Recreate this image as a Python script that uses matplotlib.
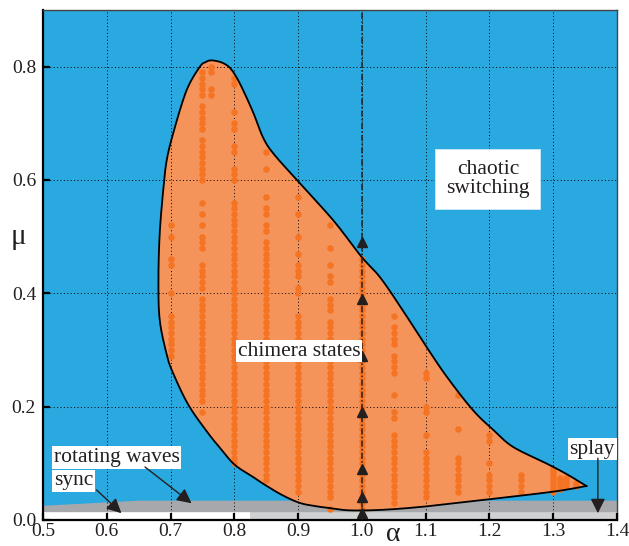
import numpy as np
import matplotlib
matplotlib.use("Agg")
import matplotlib.pyplot as plt

plt.rcParams['font.family'] = ['Liberation Serif', 'DejaVu Serif']

# boundary of the chimera region (alpha, mu), from the right-hand tip along the
# lower edge, up the left side, over the peak and back down to the tip
edge_alpha = [1.352, 1.300, 1.195, 1.101, 1.033, 0.981, 0.950, 0.930, 0.903, 0.875,
              0.848, 0.832, 0.801, 0.780, 0.759, 0.728, 0.704, 0.694, 0.683, 0.681,
              0.683, 0.689, 0.694, 0.704, 0.725, 0.746, 0.755, 0.762, 0.772, 0.783,
              0.793, 0.803, 0.814, 0.830, 0.845, 0.861, 0.898, 0.955, 0.999, 1.028,
              1.060, 1.101, 1.133, 1.174, 1.206, 1.237, 1.289, 1.321, 1.352]
edge_mu = [0.060, 0.050, 0.036, 0.024, 0.018, 0.017, 0.021, 0.024, 0.030, 0.044,
           0.062, 0.074, 0.097, 0.124, 0.153, 0.203, 0.259, 0.292, 0.353, 0.423,
           0.506, 0.588, 0.635, 0.682, 0.758, 0.800, 0.808, 0.811, 0.810, 0.806,
           0.798, 0.782, 0.758, 0.718, 0.675, 0.647, 0.600, 0.529, 0.465, 0.429,
           0.377, 0.306, 0.253, 0.194, 0.159, 0.129, 0.100, 0.081, 0.060]

# simulated points: column alpha -> mu values (in hundredths)
dots = {
    0.70: [52, 50, 46, 45, 40, 36, 35, 34, 33, 32, 31, 30, 29],
    0.75: [79, 78, 77, 76, 75, 73, 72, 71, 70, 69, 67, 66, 65, 64, 63, 62, 61, 60, 56, 54,
           52, 50, 49, 48, 45, 44, 43, 42, 41, 39, 38, 37, 36, 35, 34, 33, 32, 31, 30, 29,
           28, 27, 26, 25, 24, 23, 22, 21, 19],
    0.763: [80, 79, 76, 75],
    0.80: [78, 77, 72, 70, 69, 66, 65, 62, 61, 60, 56, 55, 54, 53, 52, 51, 50, 49, 48, 47,
           46, 45, 44, 43, 42, 41, 40, 39, 38, 37, 36, 35, 34, 33, 32, 31, 30, 29, 28, 27,
           26, 25, 24, 23, 22, 21, 20, 19, 18, 17, 16, 15, 14, 13, 12, 11, 10],
    0.85: [65, 62, 57, 55, 54, 52, 51, 49, 48, 47, 46, 45, 44, 43, 42, 41, 40, 39, 38, 37,
           36, 35, 34, 33, 32, 31, 30, 29, 28, 27, 26, 25, 24, 23, 22, 21, 20, 19, 18, 17,
           16, 15, 14, 13, 12, 11, 10, 9, 8, 7],
    0.90: [57, 54, 50, 47, 45, 44, 43, 41, 40, 36, 35, 34, 33, 32, 31, 30, 29, 28, 27, 26,
           25, 24, 23, 22, 21, 20, 19, 18, 17, 16, 15, 14, 13, 12, 11, 10, 9, 8, 7, 6, 5],
    0.95: [52, 48, 45, 43, 42, 39, 38, 37, 35, 34, 33, 32, 31, 30, 29, 28, 27, 26, 25, 24,
           23, 22, 21, 20, 19, 18, 17, 16, 15, 14, 13, 12, 11, 10, 9, 8, 7, 6, 5, 4, 2],
    1.00: [46, 45, 44, 43, 42, 41, 40, 39, 38, 37, 36, 35, 34, 33, 32, 31, 30, 29, 28, 27,
           26, 25, 24, 23, 22, 21, 20, 19, 18, 17, 16, 15, 14, 13, 12, 11, 10, 9, 8, 7, 6,
           5, 4, 3, 2],
    1.05: [36, 34, 33, 32, 31, 29, 28, 27, 26, 22, 19, 18, 15, 14, 13, 12, 11, 10, 9, 8, 7,
           6, 5, 4, 3],
    1.10: [26, 25, 20, 19, 15, 12, 11, 10, 9, 8, 7, 6, 5, 4],
    1.15: [22, 16, 11, 10, 9, 8, 7, 6, 5],
    1.20: [15, 14, 10, 8, 7, 6, 5],
    1.25: [8, 7, 6, 5],
    1.30: [9, 8.5, 8, 7.5, 7, 6.5, 6, 5.5, 5],
    1.31: [7.5, 7, 6.5, 6, 5.5],
    1.32: [7.5, 7, 6.5, 6],
    1.335: [6.5, 6],
}

# continuation sweep markers along alpha = 1
sweep_mu = [0.49, 0.39, 0.29, 0.19, 0.09, 0.04, 0.012]

# bottom bands
band_alpha = [0.5, 0.65, 1.4]
band_top = [0.026, 0.035, 0.035]
band_low = 0.0147
split_alpha = 0.824

xticks = [0.5, 0.6, 0.7, 0.8, 0.9, 1.0, 1.1, 1.2, 1.3, 1.4]
yticks = [0.0, 0.2, 0.4, 0.6, 0.8]

blue = '#29a9e0'
orange_fill = '#f4935a'
orange_dot = '#f47423'
grey_dark = '#a7a8ab'
grey_light = '#d0d1d3'
ink = '#231f20'


def smooth(xs, ys, n=10):
    # Catmull-Rom through the traced points, only for drawing the outline
    p = np.column_stack([xs, ys])
    p = np.vstack([p[:1], p, p[-1:]])
    out = []
    for i in range(1, len(p) - 2):
        p0, p1, p2, p3 = p[i - 1], p[i], p[i + 1], p[i + 2]
        for t in np.linspace(0, 1, n, endpoint=False):
            t2, t3 = t * t, t * t * t
            out.append(0.5 * ((2 * p1) + (-p0 + p2) * t + (2 * p0 - 5 * p1 + 4 * p2 - p3) * t2
                              + (-p0 + 3 * p1 - 3 * p2 + p3) * t3))
    out.append(p[-2])
    out = np.array(out)
    return out[:, 0], out[:, 1]


fig = plt.figure(figsize=(6.29, 5.46), dpi=100)
ax = fig.add_axes([43 / 629, 1 - 520 / 546, 574 / 629, 510 / 546])
ax.set_facecolor(blue)
ax.set_xlim(0.5, 1.4)
ax.set_ylim(0.0, 0.9)

# bands at the bottom
ax.fill_between([0.5, split_alpha], 0, band_low, color='white', lw=0, zorder=1)
ax.fill_between([split_alpha, 1.4], 0, band_low, color=grey_light, lw=0, zorder=1)
ax.fill_between(band_alpha, band_low, band_top, color=grey_dark, lw=0, zorder=1)

# chimera region
bx, by = smooth(edge_alpha, edge_mu)
ax.fill(bx, by, color=orange_fill, lw=0, zorder=1.5)

# grid
ax.set_axisbelow(False)
ax.grid(True, color='black', linestyle=(0, (1, 2.5)), lw=0.7)

# dots
for a, mus in dots.items():
    mu = np.array(mus) / 100.0
    ax.scatter(np.full(len(mu), a), mu, s=22, color=orange_dot, lw=0, zorder=3)

# boundary line
ax.plot(bx, by, color='black', lw=1.3, zorder=4)

# alpha = 1 sweep line
ax.plot([1.0, 1.0], [0.0, 0.9], color=ink, lw=1.1, linestyle=(0, (4, 1.5, 1, 1.5)), zorder=4)
ax.plot(np.full(len(sweep_mu), 1.0), sweep_mu, linestyle='none', marker='^',
        markersize=7, color=ink, zorder=5)

# labels
tfont = dict(fontsize=15.5, color=ink, zorder=6)
ax.text(1.1975, 0.602, 'chaotic\nswitching', ha='center', va='center', linespacing=1.05,
        bbox=dict(boxstyle='square,pad=0.5', fc='white', ec='#cfe8f6', lw=0.6), **tfont)
ax.text(0.805, 0.298, 'chimera states', ha='left', va='center',
        bbox=dict(boxstyle='square,pad=0.08', fc='white', ec='none'), **tfont)
ax.text(0.517, 0.110, 'rotating waves', ha='left', va='center',
        bbox=dict(boxstyle='square,pad=0.08', fc='white', ec='none'), **tfont)
ax.text(0.517, 0.069, 'sync', ha='left', va='center',
        bbox=dict(boxstyle='square,pad=0.08', fc='white', ec='none'), **tfont)
ax.text(1.361, 0.125, 'splay', ha='center', va='center',
        bbox=dict(boxstyle='square,pad=0.08', fc='white', ec='none'), **tfont)

arrow = dict(arrowstyle='-|>', color=ink, lw=1.0, mutation_scale=22, shrinkA=0, shrinkB=0)
ax.annotate('', xy=(0.733, 0.0295), xytext=(0.66, 0.0935), arrowprops=arrow, zorder=6)
ax.annotate('', xy=(0.623, 0.012), xytext=(0.584, 0.053), arrowprops=arrow, zorder=6)
ax.annotate('', xy=(1.370, 0.012), xytext=(1.370, 0.109), arrowprops=arrow, zorder=6)

# axes styling
ax.set_xticks(xticks)
ax.set_xticklabels(['%.1f' % v for v in xticks])
ax.set_yticks(yticks)
ax.set_yticklabels(['%.1f' % v for v in yticks])
ax.tick_params(axis='both', direction='in', length=5, width=1.6, color='black',
               labelsize=14, labelcolor=ink)
ax.tick_params(axis='x', pad=2)
ax.tick_params(axis='y', pad=5)
for side in ['left', 'bottom']:
    ax.spines[side].set_linewidth(1.6)
    ax.spines[side].set_color('black')
for side in ['top', 'right']:
    ax.spines[side].set_linewidth(1.0)
    ax.spines[side].set_color('#444444')

ax.text(-0.042, 0.555, 'μ', transform=ax.transAxes, fontsize=21, color=ink,
        ha='center', va='center')
ax.text(0.611, -0.028, 'α', transform=ax.transAxes, fontsize=20, color=ink,
        ha='center', va='center')

fig.savefig('out.png', dpi=100)
